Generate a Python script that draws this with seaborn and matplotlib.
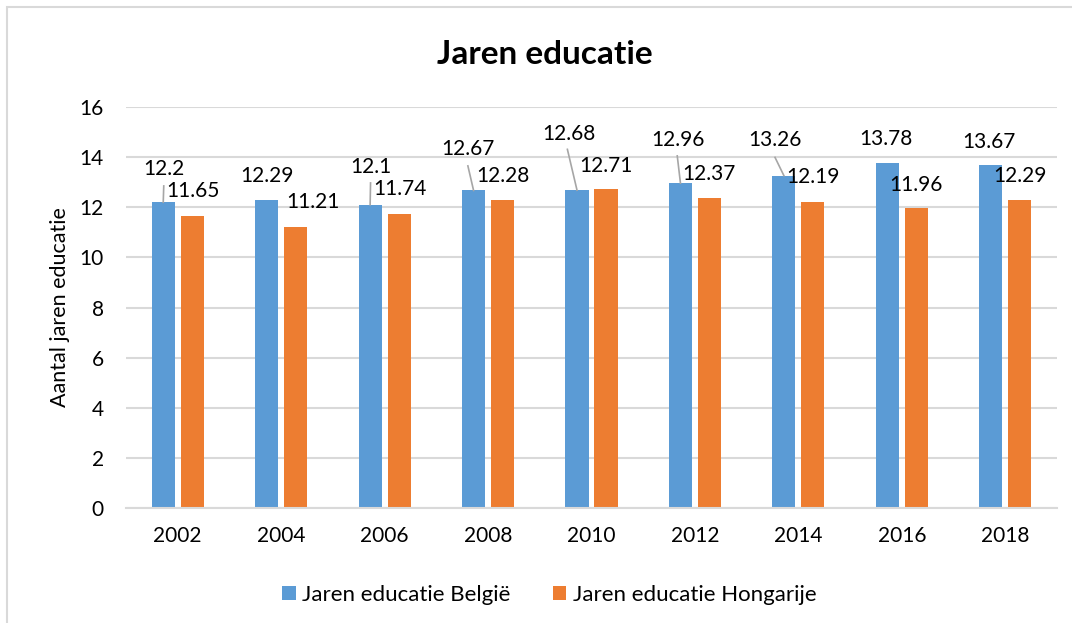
import matplotlib
matplotlib.use("Agg")
import matplotlib.pyplot as plt
import seaborn as sns
import pandas as pd
from matplotlib.patches import Rectangle

years = ["2002", "2004", "2006", "2008", "2010", "2012", "2014", "2016", "2018"]
belgie = [12.2, 12.29, 12.1, 12.67, 12.68, 12.96, 13.26, 13.78, 13.67]
hongarije = [11.65, 11.21, 11.74, 12.28, 12.71, 12.37, 12.19, 11.96, 12.29]
series_names = ["Jaren educatie België", "Jaren educatie Hongarije"]
colors = ["#5B9BD5", "#ED7D31"]
yticks = [0, 2, 4, 6, 8, 10, 12, 14, 16]

# label placement (layout only): (x offset in category units, baseline y)
bel_label_pos = [(-0.135, 13.29), (-0.134, 13.02), (-0.133, 13.36), (-0.195, 14.09), (-0.219, 14.68),
                 (-0.169, 14.46), (-0.222, 14.45), (-0.153, 14.49), (-0.157, 14.38)]
hon_label_pos = [(0.148, 12.41), (0.306, 11.96), (0.147, 12.49), (0.143, 13.02), (0.139, 13.42),
                 (0.140, 13.09), (0.141, 12.96), (0.137, 12.66), (0.143, 13.02)]
# leader line start points (layout only), None = no leader line
leader_start = [(-0.135, 12.85), None, (-0.136, 12.97), (-0.195, 13.65), (-0.233, 14.31),
                (-0.171, 14.05), (-0.226, 13.99), None, None]

plt.rcParams["font.family"] = ["Lato", "DejaVu Sans"]

df = pd.DataFrame({
    "year": years * 2,
    "value": belgie + hongarije,
    "series": [series_names[0]] * len(years) + [series_names[1]] * len(years),
})

fig = plt.figure(figsize=(10.72, 6.23), dpi=100)
ax = fig.add_axes([126 / 1072, 1 - 508 / 623, (1057 - 126) / 1072, (508 - 107) / 623])
sns.barplot(data=df, x="year", y="value", hue="series", palette=colors,
            width=0.56, gap=0.2, ax=ax, legend=True, saturation=1)

ax.set_ylim(0, 16)
ax.set_xlim(-0.5, len(years) - 0.5)
ax.set_yticks(yticks)
ax.set_yticklabels([str(t) for t in yticks])
ax.grid(axis="y", color="#D9D9D9", linewidth=1.5)
ax.set_axisbelow(True)
for s in ["top", "right", "left"]:
    ax.spines[s].set_visible(False)
ax.spines["bottom"].set_color("#D9D9D9")
ax.spines["bottom"].set_linewidth(1.5)
ax.tick_params(axis="both", length=0, labelsize=15, colors="#000000")
ax.tick_params(axis="x", pad=13)
ax.tick_params(axis="y", pad=16)
ax.set_xlabel("")
ax.set_ylabel("Aantal jaren educatie", fontsize=15.5)
ax.yaxis.set_label_coords(-0.06, 0.5)

bar_off = -0.14
for i in range(len(years)):
    bx, by = bel_label_pos[i]
    ax.text(i + bx, by, f"{belgie[i]:g}", ha="center", va="baseline", fontsize=15)
    if leader_start[i] is not None:
        sx, sy = leader_start[i]
        ax.plot([i + sx, i + bar_off], [sy, belgie[i]], color="#A6A6A6",
                linewidth=1.2, zorder=3)
    hx, hy = hon_label_pos[i]
    ax.text(i + hx, hy, f"{hongarije[i]:g}", ha="center", va="baseline", fontsize=15)

fig.text(545 / 1072, 1 - 63.5 / 623, "Jaren educatie", ha="center", va="baseline",
         fontsize=24, fontweight="bold")

leg = ax.legend(loc="center", bbox_to_anchor=((549.5 - 126) / 931, -(595 - 508) / 401),
                ncol=2, frameon=False, fontsize=16, handlelength=0.6, handleheight=0.6,
                handletextpad=0.3, columnspacing=1.9)

fig.patches.append(Rectangle((7 / 1072, -0.1), 1.2, 1 - 7 / 623 + 0.1,
                             transform=fig.transFigure, fill=False,
                             edgecolor="#D9D9D9", linewidth=1.5))

fig.savefig("out.png", dpi=100)
